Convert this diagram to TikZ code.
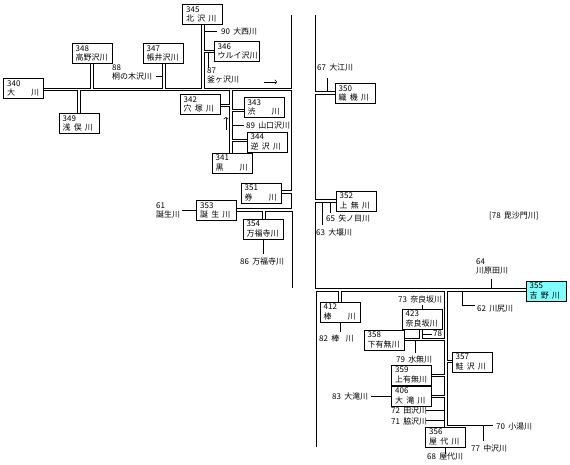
\documentclass[tikz,border=0pt]{standalone}
\usepackage{fontspec}
\setmainfont{Noto Sans CJK JP}
\usetikzlibrary{arrows.meta}
\definecolor{MainFill}{RGB}{128,255,255}
\newcommand{\kg}{\hspace{0.4em}}

\begin{document}
\begin{tikzpicture}[
    x=0.03cm, y=-0.03cm,
    basin/.style={rectangle, draw, line width=0.75pt, minimum width=1.2cm, minimum height=0.6cm,
        text width=0.98cm, inner xsep=0.11cm, inner ysep=1pt, align=left, font=\fontsize{6.8}{8}\selectfont},
    wide/.style={minimum width=1.35cm, text width=1.13cm},
    bank/.style={line width=0.45pt},
    feeder/.style={line width=0.45pt},
    lbl/.style={font=\fontsize{6.8}{8}\selectfont, anchor=west, inner sep=0pt, align=left},
    flow/.style={-{To[length=2pt]}, line width=0.45pt},
]
\useasboundingbox (0,0) rectangle (570,464);

% basins
\node[basin] (b340) at (23.5,88.5) {340\\大　　川};
\node[basin] (b345) at (202.5,14.5) {345\\北\kg 沢\kg 川};
\node[basin, wide] (b346) at (236.5,51.5) {346\\ウルイ沢川};
\node[basin] (b347) at (163,53.5) {347\\帳井沢川};
\node[basin] (b348) at (92,53.5) {348\\高野沢川};
\node[basin] (b349) at (79,123.5) {349\\浅\kg 俣\kg 川};
\node[basin] (b342) at (200,104.5) {342\\穴\kg 塚\kg 川};
\node[basin] (b343) at (264,107.5) {343\\渋　　川};
\node[basin] (b344) at (267,142) {344\\逆\kg 沢\kg 川};
\node[basin] (b341) at (232,163) {341\\黒　　川};
\node[basin] (b351) at (261,193) {351\\券　　川};
\node[basin] (b353) at (216.5,210.5) {353\\誕\kg 生\kg 川};
\node[basin] (b354) at (263,229) {354\\万福寺川};
\node[basin] (b350) at (355,93.5) {350\\織\kg 機\kg 川};
\node[basin] (b352) at (356,201) {352\\上\kg 無\kg 川};
\node[basin, fill=MainFill] (b355) at (546,291) {355\\吉\kg 野\kg 川};
\node[basin] (b412) at (340,312) {412\\棒　　川};
\node[basin] (b423) at (422,319) {423\\奈良坂川};
\node[basin] (b358) at (384,340) {358\\下有無川};
\node[basin] (b357) at (472,362) {357\\鮭\kg 沢\kg 川};
\node[basin] (b359) at (411.5,375) {359\\上有無川};
\node[basin] (b406) at (411.5,396) {406\\大\kg 滝\kg 川};
\node[basin] (b356) at (445.5,437) {356\\屋\kg 代\kg 川};

% small streams
\node[lbl] (l90) at (221,32) {90\kg 大西川};
\node[lbl, anchor=north west] (l87) at (207,67) {87\\釜ヶ沢川};
\node[lbl, anchor=north west] (l88) at (112,64) {88\\桐の木沢川};
\node[lbl] (l89) at (246,126) {89\kg 山口沢川};
\node[lbl, anchor=north west] (l61) at (156,202) {61\\誕生川};
\node[lbl] (l86) at (240,261) {86\kg 万福寺川};
\node[lbl] (l67) at (317,68) {67\kg 大江川};
\node[lbl] (l65) at (326,218) {65\kg 矢ノ目川};
\node[lbl] (l63) at (316,232) {63\kg 大堰川};
\node[lbl] (l78b) at (489,216) {[78\kg 毘沙門川]};
\node[lbl, anchor=north west] (l64) at (476,258) {64\\川原田川};
\node[lbl] (l62) at (477,309) {62\kg 川尻川};
\node[lbl] (l73) at (398,299) {73\kg 奈良坂川};
\node[lbl] (l78) at (433,334) {78};
\node[lbl] (l82) at (319,338) {82\kg 棒\kg\kg 川};
\node[lbl] (l79) at (396,359) {79\kg 水無川};
\node[lbl] (l83) at (332,396) {83\kg 大滝川};
\node[lbl] (l72) at (391,411) {72\kg 田沢川};
\node[lbl] (l71) at (391,421) {71\kg 脇沢川};
\node[lbl] (l70) at (496,427) {70\kg 小湯川};
\node[lbl] (l77) at (471,448) {77\kg 中沢川};
\node[lbl] (l68) at (427,457) {68\kg 屋代川};

% upper left channels
\draw[bank] (b340.east |- 0,88) -- (90.7,88) -- (b348.south -| 90.7,0);
\draw[bank] (b348.south -| 93.3,0) -- (93.3,88) -- (162.3,88) -- (b347.south -| 162.3,0);
\draw[bank] (b347.south -| 165,0) -- (165,88) -- (201.7,88) -- (b345.south -| 201.7,0);
\draw[bank] (b345.south -| 204,0) -- (204,50) -- (b346.west |- 0,50);
\draw[bank] (b346.west |- 0,52.3) -- (204,52.3) -- (204,88) -- (291,88) -- (291,15);
\draw[bank] (b340.east |- 0,90.7) -- (77.3,90.7) -- (b349.north -| 77.3,0);
\draw[bank] (b349.north -| 80,0) -- (80,90.7) -- (229.3,90.7) -- (229.3,104) -- (b342.east |- 0,104);
\draw[bank] (b342.east |- 0,106.7) -- (229.3,106.7) -- (b341.north -| 229.3,0);
\draw[bank] (b341.north -| 232.3,0) -- (232.3,141.7) -- (b344.west |- 0,141.7);
\draw[bank] (b344.west |- 0,139.3) -- (232.3,139.3) -- (232.3,111.3) -- (b343.west |- 0,111.3);
\draw[bank] (b343.west |- 0,109) -- (232.3,109) -- (232.3,90.7) -- (291,90.7) -- (291,190.7) -- (b351.east |- 0,190.7);
\draw[bank] (b351.east |- 0,193.3) -- (291,193.3) -- (291,208.3) -- (b353.east |- 0,208.3);
\draw[bank] (b353.east |- 0,211) -- (262.3,211) -- (b354.north -| 262.3,0);
\draw[bank] (b354.north -| 265,0) -- (265,211) -- (292.3,211) -- (292.3,288);

\draw[feeder] (204,31.7) -- (216.7,31.7);
\draw[feeder] (208,52.3) -- (208,68);
\draw[feeder] (162.3,76) -- (155.7,76);
\draw[feeder] (232.3,125) -- (244,125);
\draw[feeder] (b353.west) -- ++(-14,0);
\draw[feeder] (b354.south) -- ++(0,15);
\draw[flow] (264,82) -- (277,82);
\draw[flow] (226,130) -- (226,117);

% main stem
\draw[bank] (315,15) -- (315,91.7) -- (b350.west |- 0,91.7);
\draw[bank] (b350.west |- 0,94) -- (315,94) -- (315,199.3) -- (b352.west |- 0,199.3);
\draw[bank] (b352.west |- 0,202) -- (315,202) -- (315,288) -- (b355.west |- 0,288);
\draw[bank] (b355.west |- 0,291) -- (447,291) -- (447,360) -- (b357.west |- 0,360);
\draw[bank] (b357.west |- 0,362.3) -- (447,362.3) -- (447,425) -- (493,425);

\draw[feeder] (327.3,91.7) -- (327.3,78);
\draw[feeder] (330.7,202) -- (330.7,212.7);
\draw[feeder] (322.3,202) -- (322.3,225);
\draw[feeder] (491,288) -- (491,279);
\draw[feeder] (462.7,291) -- (462.7,305) -- (475,305);
\draw[feeder] (483,425) -- (483,441);

% lower tributaries
\draw[bank] (316,447) -- (316,291) -- (338.7,291) -- (b412.north -| 338.7,0);
\draw[bank] (b412.north -| 341.3,0) -- (341.3,291) -- (444,291) -- (444,338.3) -- (422,338.3) -- (b423.south -| 422,0);
\draw[bank] (b423.south -| 419.3,0) -- (419.3,338.3) -- (b358.east |- 0,338.3);
\draw[bank] (b358.east |- 0,340.7) -- (444,340.7) -- (444,374) -- (b359.east |- 0,374);
\draw[bank] (b359.east |- 0,376.5) -- (444,376.5) -- (444,395) -- (b406.east |- 0,395);
\draw[bank] (b406.east |- 0,397.5) -- (444,397.5) -- (b356.north -| 444,0);

\draw[feeder] (b412.south) -- ++(0,9.7);
\draw[feeder] (b423.north) -- ++(0,-4);
\draw[feeder] (422,334) -- (432,334);
\draw[feeder] (415,340.7) -- (415,353);
\draw[feeder] (b406.west) -- ++(-20,0);
\draw[feeder] (426,410.3) -- (444,410.3);
\draw[feeder] (426,420.7) -- (444,420.7);
\draw[feeder] (b356.south) -- ++(0,7);
\end{tikzpicture}
\end{document}
